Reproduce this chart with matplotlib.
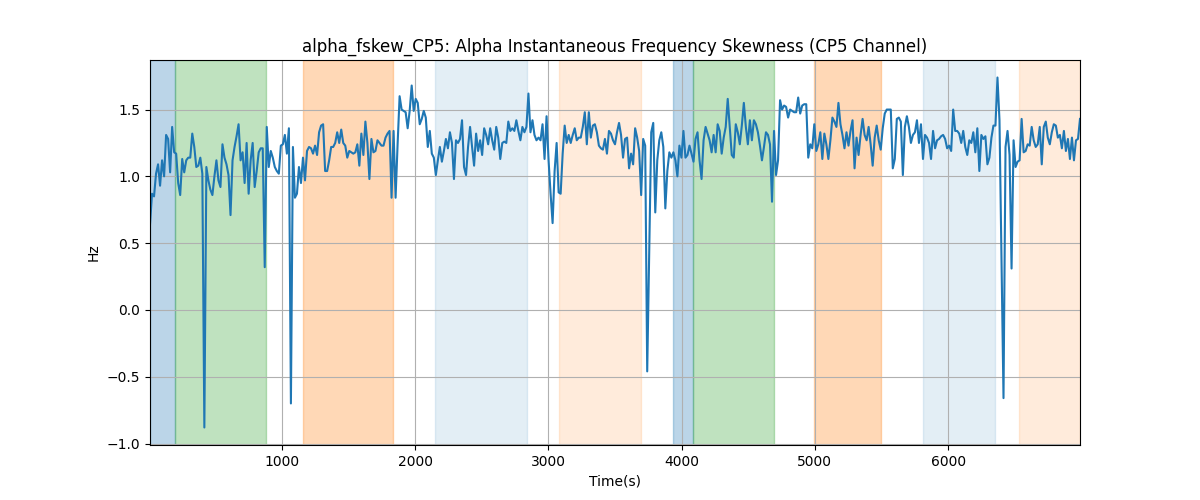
import matplotlib
matplotlib.use("Agg")
import matplotlib.pyplot as plt
import numpy as np

# ── Data ───────────────────────────────────────────────────────────────

t_start = 10.0
t_end = 6990.0

seg_a = [0.64, 0.87, 0.85, 1.02, 1.09, 0.93, 1.12, 1.00, 1.31, 1.28, 1.03, 1.37,
         1.18, 1.17, 0.95, 0.86, 1.13, 1.03, 1.12, 1.14, 1.14, 1.32, 1.22, 1.07,
         1.08, 1.14, 1.02, -0.88, 1.07, 0.97, 0.90, 0.86, 1.00, 1.12, 0.97, 0.92,
         1.24, 1.14, 1.09, 1.01, 0.71, 1.12, 1.22, 1.30, 1.39, 1.12, 1.18, 0.95,
         1.25, 0.87]
seg_b = [1.12, 1.25, 0.92, 1.04, 1.18, 1.21, 1.21, 0.32, 1.37, 1.07, 1.19, 1.14,
         1.07, 1.04, 1.02, 1.23, 1.24, 1.31, 1.17, 1.36, -0.70, 1.22, 0.84, 0.87,
         1.07, 0.95, 1.14, 0.97, 1.19, 1.22, 1.21, 1.17, 1.23, 1.16, 1.33, 1.38,
         1.39, 1.04, 1.04, 1.12, 1.22, 1.22, 1.25, 1.33, 1.25, 1.35, 1.25, 1.23,
         1.14, 1.19, 1.18]
seg_c = [1.17, 1.18, 1.24, 1.08, 1.32, 1.16, 1.41, 1.25, 0.98, 1.28, 1.18, 1.19,
         1.27, 1.25, 1.23, 1.23, 1.29, 1.32, 1.34, 0.84, 1.34, 0.84, 1.24, 1.60,
         1.50, 1.49, 1.48, 1.36, 1.49, 1.68, 1.49, 1.58, 1.55, 1.39, 1.43, 1.49,
         1.44, 1.22, 1.34, 1.17, 1.14, 1.01, 1.12, 1.22, 1.11, 1.19, 1.28, 1.21,
         1.33, 1.25, 0.98]
seg_d = [1.27, 1.25, 1.28, 1.42, 1.07, 1.01, 1.22, 1.37, 1.22, 1.08, 1.32, 1.19,
         1.27, 1.16, 1.36, 1.31, 1.24, 1.36, 1.27, 1.20, 1.37, 1.29, 1.13, 1.25,
         1.26, 1.25, 1.41, 1.34, 1.36, 1.34, 1.42, 1.34, 1.27, 1.37, 1.33, 1.37,
         1.62, 1.33, 1.42, 1.31, 1.27, 1.29, 1.27, 1.39, 1.13, 1.45, 1.12, 0.87,
         0.65, 1.04, 1.25, 0.88, 0.87, 1.17, 1.38, 1.25, 1.31, 1.25, 1.31, 1.36,
         1.27]
seg_e = [1.29, 1.29, 1.37, 1.48, 1.24, 1.48, 1.29, 1.38, 1.39, 1.33, 1.23, 1.21,
         1.20, 1.28, 1.17, 1.34, 1.32, 1.27, 1.24, 1.33, 1.40, 1.31, 1.14, 1.28,
         1.29, 1.06, 1.17, 1.09, 1.36, 1.29, 1.19, 0.86, 1.28, 1.23, -0.46, 0.45,
         1.33, 1.40, 0.73, 1.12, 1.27, 1.33, 1.22, 0.76, 1.04, 1.18, 1.14, 1.18,
         1.12, 1.00, 1.23, 1.14, 1.34, 1.14, 1.16, 1.23, 1.17, 1.11, 1.28, 1.33]
seg_f = [1.12, 0.98, 1.27, 1.37, 1.32, 1.27, 1.18, 1.31, 1.18, 1.39, 1.34, 1.17,
         1.29, 1.37, 1.58, 1.37, 1.16, 1.14, 1.39, 1.33, 1.24, 1.38, 1.55, 1.37,
         1.24, 1.42, 1.27, 1.42, 1.39, 1.33, 1.23, 1.12, 1.22, 1.33, 1.31, 1.24,
         0.81, 1.34, 1.01, 1.12, 1.57, 1.50, 1.53, 1.52, 1.44, 1.50, 1.49, 1.48,
         1.48, 1.59, 1.47, 1.53, 1.54, 1.54, 1.14, 1.24, 1.21, 1.39, 1.19, 1.24,
         1.33]
seg_g = [1.13, 1.32, 1.24, 1.13, 1.27, 1.44, 1.41, 1.37, 1.55, 1.39, 1.31, 1.21,
         1.33, 1.23, 1.34, 1.42, 1.06, 1.29, 1.16, 1.31, 1.43, 1.31, 1.27, 1.37,
         1.24, 1.08, 1.29, 1.38, 1.27, 1.20, 1.36, 1.47, 1.50, 1.50, 1.50, 1.06,
         1.13, 1.43, 1.44, 1.41, 1.01, 1.37, 1.45, 1.37, 1.25, 1.31, 1.33, 1.42,
         1.25, 1.39, 1.13, 1.31, 1.29, 1.25, 1.13, 1.34, 1.21, 1.27, 1.28, 1.30,
         1.31, 1.28, 1.21]
seg_h = [1.23, 1.19, 1.50, 1.34, 1.34, 1.32, 1.25, 1.34, 1.22, 1.16, 1.27, 1.25,
         1.33, 1.18, 1.36, 1.04, 1.31, 1.28, 1.30, 1.09, 1.14, 1.29, 1.38, 1.38,
         1.74, 1.42, 0.40, -0.66, 1.22, 1.34, 1.16, 0.31, 1.27, 1.07, 1.11, 1.12,
         1.43, 1.18, 1.19, 1.24, 1.23, 1.37, 1.27, 1.22, 1.24, 1.37, 1.09, 1.37,
         1.41, 1.29, 1.24, 1.33, 1.39, 1.38, 1.29, 1.31, 1.21, 1.34, 1.19, 1.28,
         1.13, 1.29, 1.12, 1.27, 1.28, 1.43]

skew_hz = np.array(seg_a + seg_b + seg_c + seg_d + seg_e + seg_f + seg_g + seg_h)
time_s = np.linspace(t_start, t_end, len(skew_hz))

# shaded state intervals (start, end, colour, alpha)
span_starts = [10, 197, 1158, 2149, 3080, 3933, 4088, 4996, 5812, 6533]
span_ends = [197, 878, 1831, 2837, 3693, 4088, 4692, 5495, 6353, 6990]
span_colours = ["tab:blue", "tab:green", "tab:orange", "tab:blue", "tab:orange",
                "tab:blue", "tab:green", "tab:orange", "tab:blue", "tab:orange"]
span_alphas = [0.3, 0.3, 0.3, 0.12, 0.15, 0.3, 0.3, 0.3, 0.12, 0.15]

# ── Plot ───────────────────────────────────────────────────────────────

fig, ax = plt.subplots(figsize=(12, 5), dpi=100)

for x0, x1, c, a in zip(span_starts, span_ends, span_colours, span_alphas):
    ax.axvspan(x0, x1, color=c, alpha=a)

ax.plot(time_s, skew_hz, color="tab:blue", linewidth=1.5)

ax.set_xlim(time_s[0], time_s[-1])
ax.set_title("alpha_fskew_CP5: Alpha Instantaneous Frequency Skewness (CP5 Channel)")
ax.set_xlabel("Time(s)")
ax.set_ylabel("Hz")
ax.grid(True)

fig.savefig("out.png")
